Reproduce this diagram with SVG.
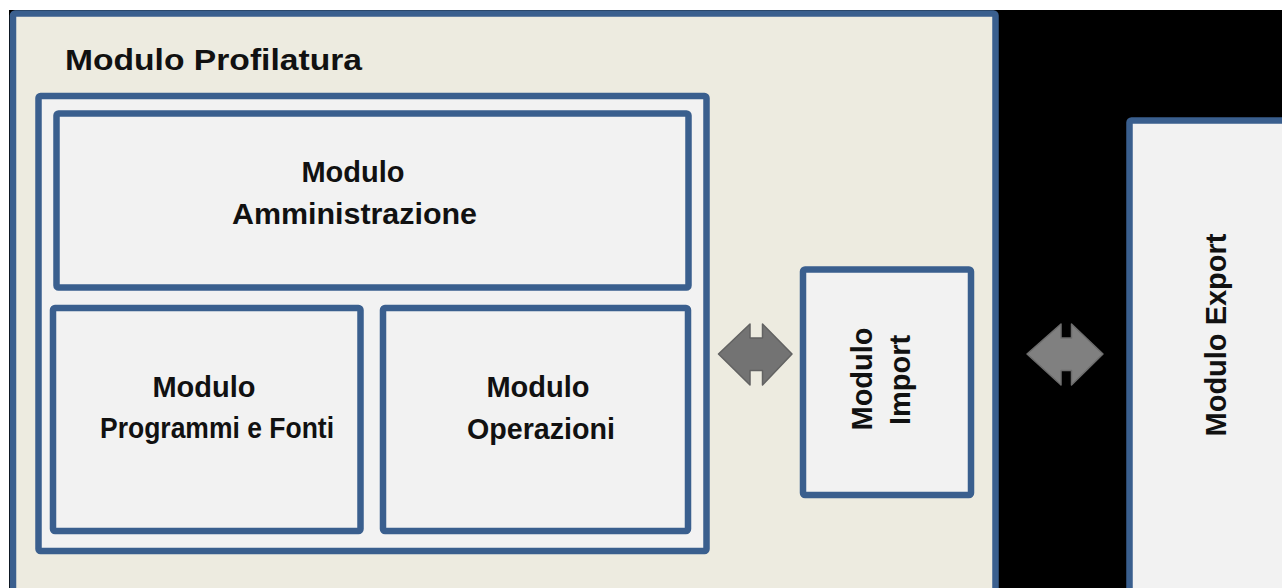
<svg xmlns="http://www.w3.org/2000/svg" width="1282" height="588" viewBox="0 0 1282 588">
  <style>
    .frame { stroke: #3a5f8e; stroke-width: 6.5; }
    .outer { fill: #edebe0; }
    .panel { fill: #f2f2f2; }
    .lbl { font-family: "Liberation Sans", Arial, sans-serif; font-weight: bold; font-size: 29px; fill: #111; }
    .mid { text-anchor: middle; }
    .arrow { stroke-width: 1.5; stroke-linejoin: round; }
  </style>

  <!-- page background -->
  <rect x="0" y="0" width="1282" height="588" fill="#ffffff"/>
  <rect x="9" y="10" width="1273" height="578" fill="#000000"/>

  <!-- outer container: Modulo Profilatura -->
  <g id="profilatura">
    <rect class="frame outer" x="13" y="13.5" width="982.5" height="590" rx="2"/>
    <text class="lbl" x="65" y="70" font-size="36" textLength="297" lengthAdjust="spacingAndGlyphs">Modulo Profilatura</text>
  </g>

  <!-- grouping frame around the three core modules -->
  <g id="core">
    <rect class="frame panel" x="38.5" y="96" width="668" height="455" rx="2"/>
  </g>

  <g id="amministrazione">
    <rect class="frame panel" x="56.5" y="113.5" width="632" height="174" rx="2"/>
    <text class="lbl mid" x="353" y="182">Modulo</text>
    <text class="lbl mid" x="354.5" y="224" textLength="245" lengthAdjust="spacingAndGlyphs">Amministrazione</text>
  </g>

  <g id="programmi">
    <rect class="frame panel" x="53" y="308" width="307.5" height="223" rx="2"/>
    <text class="lbl mid" x="204" y="397">Modulo</text>
    <text class="lbl mid" x="217" y="438" textLength="234" lengthAdjust="spacingAndGlyphs">Programmi e Fonti</text>
  </g>

  <g id="operazioni">
    <rect class="frame panel" x="383" y="308" width="305" height="223" rx="2"/>
    <text class="lbl mid" x="538" y="397">Modulo</text>
    <text class="lbl mid" x="541" y="439" textLength="148" lengthAdjust="spacingAndGlyphs">Operazioni</text>
  </g>

  <g id="import">
    <rect class="frame panel" x="803" y="269.5" width="168" height="225.5" rx="2"/>
    <text class="lbl mid" transform="translate(872 379) rotate(-90)">Modulo</text>
    <text class="lbl mid" transform="translate(910 380) rotate(-90)">Import</text>
  </g>

  <g id="export">
    <rect class="frame panel" x="1129.5" y="120.5" width="170" height="490" rx="2"/>
    <text class="lbl mid" transform="translate(1226 335) rotate(-90)">Modulo Export</text>
  </g>

  <!-- bidirectional links -->
  <g id="connectors">
    <polygon class="arrow" fill="#737373" stroke="#626262"
      points="718.5,354 750,324 750,338 762.5,338 762.5,324 792,354 762.5,385 762.5,370.5 750,370.5 750,385"/>
    <polygon class="arrow" fill="#808080" stroke="#6c6c6c"
      points="1027,354 1061,324 1061,338 1071.5,338 1071.5,324 1103,354 1071.5,385 1071.5,370.5 1061,370.5 1061,385"/>
  </g>
</svg>
